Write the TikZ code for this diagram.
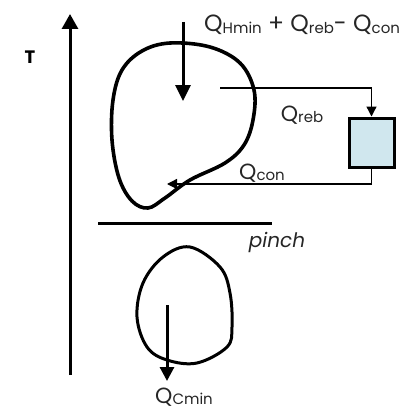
\documentclass[tikz,border=0pt]{standalone}
\usepackage{fontspec}
\setmainfont{Poppins}
\usetikzlibrary{positioning,arrows.meta,calc}
\definecolor{exfill}{RGB}{208,231,238}
\newcommand{\Qsub}[1]{Q\raisebox{-1.5pt}{\fontsize{15}{15}\selectfont #1}}
\tikzset{
  taxis/.style={-{Triangle[length=15pt,width=16pt]},line width=3pt},
  heat/.style={-{Triangle[length=16pt,width=15pt]},line width=3pt},
  blob/.style={line width=3.6pt,line join=round},
  flow/.style={-{Triangle[length=10pt,width=10pt]},line width=1.3pt},
  exch/.style={draw,line width=3pt,fill=exfill,minimum width=45pt,minimum height=49pt,inner sep=0pt},
  lbl/.style={font=\fontsize{22}{24}\selectfont,text=black!85,inner sep=1pt},
}
\begin{document}
\begin{tikzpicture}[x=1pt,y=-1pt]
  \useasboundingbox (0,0) rectangle (417,412);
  % temperature axis
  \coordinate (ax0) at (70,375);
  \coordinate (ax1) at (70,14);
  \draw[taxis] (ax0) -- (ax1);
  \node[font=\fontsize{18}{18}\selectfont\bfseries] (tlab) at (30,57) {T};
  % above the pinch
  \draw[blob] plot[smooth cycle,tension=0.6] coordinates {
    (170,43) (210,47) (240,63) (254,90) (253,120) (244,145) (225,163)
    (190,180) (165,198) (148,208) (132,201) (119,178) (112,140)
    (113,100) (122,70) (142,51)};
  \coordinate (hin) at (183,22);
  \coordinate (hout) at (183,101);
  \draw[heat] (hin) -- (hout);
  \node[lbl,anchor=west,font=\fontsize{23.5}{25}\selectfont] (qhot) at (203,25)
    {\Qsub{Hmin} + \Qsub{reb}- \Qsub{con}};
  % reboiler / condenser
  \node[exch] (box) at (371.5,142.5) {};
  \coordinate (rebout) at (220,88);
  \draw[flow] (rebout) -| (box.north);
  \node[lbl] (qreb) at (302,115) {\Qsub{reb}};
  \coordinate (conin) at (167,184);
  \draw[flow] (box.south) |- (conin);
  \node[lbl] (qcon) at (262,173) {\Qsub{con}};
  % pinch
  \coordinate (pl) at (98,223);
  \coordinate (pr) at (272,223);
  \draw[line width=3pt] (pl) -- (pr);
  \node[lbl,font=\fontsize{20}{22}\selectfont\itshape] (pinch) at (277,242) {pinch};
  % below the pinch
  \draw[blob,line width=3pt] plot[smooth cycle,tension=0.6] coordinates {
    (190,247) (220,267) (230,293) (232,327) (227,347) (197,363)
    (167,360) (147,347) (137,317) (143,283) (163,257)};
  \coordinate (cin) at (167,305);
  \coordinate (cout) at (167,381);
  \draw[heat,-{Triangle[length=14pt,width=14pt]}] (cin) -- (cout);
  \node[lbl] (qcold) at (184,397) {\Qsub{Cmin}};
\end{tikzpicture}
\end{document}
